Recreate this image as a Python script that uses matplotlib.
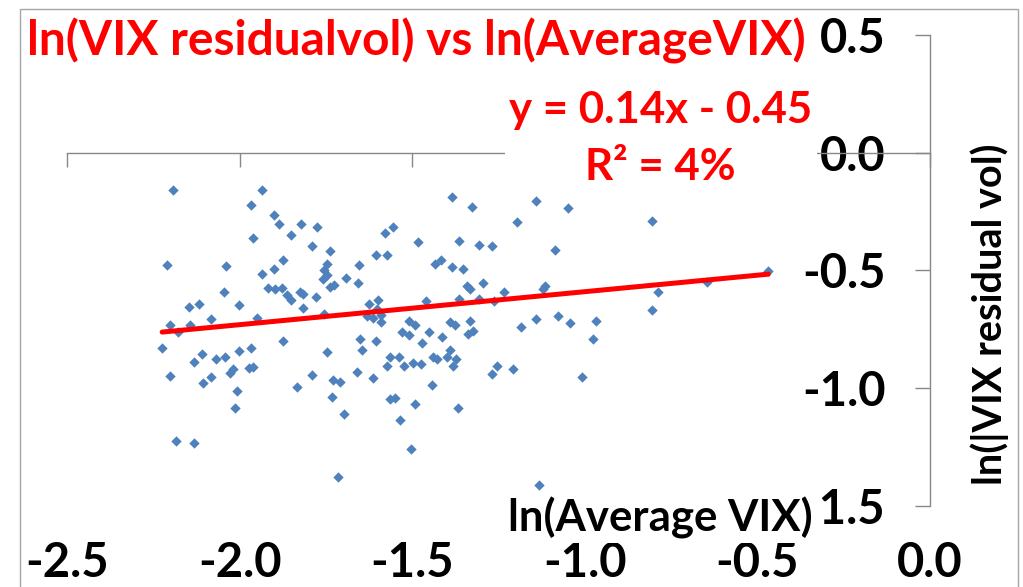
import matplotlib
matplotlib.use("Agg")
import matplotlib.pyplot as plt
from matplotlib.patches import Rectangle

plt.rcParams["font.family"] = ["Lato", "DejaVu Sans"]
plt.rcParams["axes.unicode_minus"] = False

# ln(Average VIX) vs ln(VIX residual vol)
avg_vix_ln = [
    -2.195, -1.935, -1.968, -1.901, -1.886, -1.823, -1.777, -1.853, -1.962, -1.791,
    -1.739, -2.211, -2.039, -1.876, -1.901, -1.935, -1.748, -1.755, -1.748, -1.654,
    -1.692, -1.386, -1.327, -1.142, -1.049, -1.197, -1.578, -1.555, -1.484, -1.364,
    -1.306, -1.269, -1.086, -1.605, -1.574, -1.435, -1.418, -1.385, -1.354, -0.806,
    -0.468, -1.758, -1.657, -1.919, -1.898, -1.877, -1.864, -1.852, -1.826, -1.816,
    -1.780, -2.045, -2.002, -2.117, -2.146, -1.816, -2.084, -1.951, -2.203, -2.144,
    -2.180, -1.756, -1.739, -1.726, -1.626, -1.599, -1.601, -1.632, -1.613, -1.592,
    -1.592, -1.461, -1.365, -1.342, -1.509, -1.492, -1.391, -1.376, -1.338, -1.531,
    -1.509, -1.451, -1.415, -1.473, -1.652, -1.606, -1.647, -1.874, -2.225, -2.109,
    -2.132, -2.070, -2.043, -2.003, -1.968, -1.748, -1.963, -1.972, -2.019, -2.028,
    -2.203, -2.084, -2.106, -1.792, -1.729, -1.710, -1.661, -1.615, -1.565, -1.538,
    -1.574, -1.523, -1.499, -1.475, -1.439, -1.428, -1.391, -1.399, -1.373, -1.383,
    -1.444, -1.835, -1.333, -1.296, -1.233, -1.115, -1.120, -1.307, -1.263, -0.787,
    -0.647, -0.804, -1.333, -1.323, -1.185, -1.141, -1.079, -1.043, -0.967, -0.977,
    -1.255, -1.268, -1.207, -1.007, -2.008, -2.014, -2.185, -2.133, -1.715, -1.733,
    -1.699, -1.535, -1.505, -1.565, -1.550, -1.491, -1.368, -1.133,
]
resid_vol_ln = [
    -0.159, -0.159, -0.221, -0.265, -0.302, -0.302, -0.314, -0.351, -0.363, -0.396,
    -0.418, -0.477, -0.480, -0.455, -0.493, -0.517, -0.473, -0.496, -0.521, -0.476,
    -0.531, -0.190, -0.232, -0.204, -0.235, -0.293, -0.341, -0.316, -0.380, -0.373,
    -0.393, -0.396, -0.414, -0.435, -0.435, -0.471, -0.455, -0.486, -0.493, -0.289,
    -0.504, -0.535, -0.553, -0.575, -0.578, -0.573, -0.602, -0.627, -0.591, -0.599,
    -0.613, -0.591, -0.648, -0.641, -0.655, -0.659, -0.707, -0.701, -0.733, -0.733,
    -0.763, -0.683, -0.570, -0.561, -0.641, -0.627, -0.662, -0.693, -0.701, -0.690,
    -0.718, -0.631, -0.623, -0.564, -0.716, -0.733, -0.718, -0.733, -0.768, -0.763,
    -0.772, -0.760, -0.782, -0.806, -0.789, -0.798, -0.838, -0.798, -0.828, -0.856,
    -0.887, -0.877, -0.866, -0.841, -0.831, -0.848, -0.908, -0.916, -0.918, -0.937,
    -0.946, -0.952, -0.979, -0.944, -0.965, -0.975, -0.932, -0.958, -0.869, -0.869,
    -0.904, -0.904, -0.894, -0.899, -0.869, -0.877, -0.838, -0.869, -0.877, -0.904,
    -0.986, -0.993, -0.578, -0.552, -0.591, -0.566, -0.580, -0.623, -0.629, -0.591,
    -0.549, -0.669, -0.714, -0.756, -0.739, -0.704, -0.693, -0.721, -0.714, -0.789,
    -0.906, -0.941, -0.920, -0.951, -1.011, -1.085, -1.225, -1.232, -1.377, -1.039,
    -1.110, -1.136, -1.258, -1.046, -1.042, -1.065, -1.086, -1.409,
]
# trendline as printed on the chart
slope, intercept = 0.14, -0.45
r2_pct = 4

xticks = [-2.5, -2.0, -1.5, -1.0, -0.5, 0.0]
yticks = [0.5, 0.0, -0.5, -1.0, -1.5]

fig = plt.figure(figsize=(10.23, 5.87), dpi=100)
ax = fig.add_axes([0.0658, 0.138, 0.8431, 0.8024])

ax.scatter(avg_vix_ln, resid_vol_ln, marker="D", s=28, color="#4F81BD",
           linewidths=0, zorder=3)

x0, x1 = min(avg_vix_ln), max(avg_vix_ln)
ax.plot([x0, x1], [slope * x0 + intercept, slope * x1 + intercept],
        color="red", lw=3.6, solid_capstyle="round", zorder=4)

ax.set_xlim(-2.5, 0)
ax.set_ylim(-1.5, 0.5)

grey = "#888888"
ax.spines["top"].set_visible(False)
ax.spines["right"].set_visible(False)
ax.spines["bottom"].set_position(("data", 0))
ax.spines["left"].set_position(("data", 0))
for s in ("bottom", "left"):
    ax.spines[s].set_color(grey)
    ax.spines[s].set_linewidth(1.0)
    ax.spines[s].set_zorder(2.6)

ax.set_xticks(xticks)
ax.tick_params(axis="x", direction="out", length=10, width=1, color=grey,
               labelbottom=False)
for v in xticks:
    ax.text(v, -0.12, f"{v:.1f}", transform=ax.get_xaxis_transform(),
            ha="center", va="center", fontsize=34, fontweight="bold")

ax.set_yticks(yticks)
ax.set_yticklabels([f"{v:.1f}" for v in yticks])
ax.tick_params(axis="y", direction="out", length=11, width=1, color=grey,
               pad=21, labelsize=34)
for lab in ax.get_yticklabels():
    lab.set_fontweight("bold")

ax.text(0.688, 0.78,
        f"y = {slope:.2f}x - {abs(intercept):.2f}\nR\u00b2 = {r2_pct}%",
        transform=ax.transAxes, ha="center", va="center", multialignment="center",
        linespacing=1.5, fontsize=31.5, fontweight="bold", color="red",
        bbox=dict(facecolor="white", edgecolor="none", pad=3), zorder=6)

ax.text(0.688, -0.025, "ln(Average VIX)", transform=ax.transAxes,
        ha="center", va="center", fontsize=31.5, fontweight="bold",
        bbox=dict(facecolor="white", edgecolor="none", pad=3), zorder=6,
        clip_on=False)

fig.text(0.967, 0.465, "ln(|VIX residual vol)", rotation=90,
         ha="center", va="center", fontsize=28.5, fontweight="bold")

fig.text(27 / 1023, 0.9046, "ln(VIX residualvol) vs ln(AverageVIX)",
         ha="left", va="baseline", fontsize=34.5, fontweight="bold", color="red")

fig.patches.append(Rectangle((0.0196, -0.05), 0.9756, 1.0347,
                             transform=fig.transFigure, fill=False,
                             edgecolor="#a6a6a6", lw=1))

fig.savefig("out.png", dpi=100)
plt.close(fig)
